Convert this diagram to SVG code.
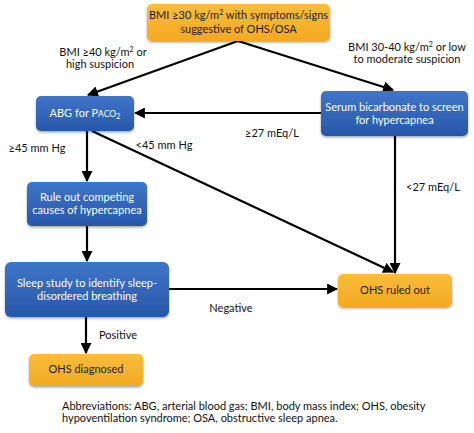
<svg xmlns="http://www.w3.org/2000/svg" width="474" height="433" viewBox="0 0 474 433">
<defs>
<linearGradient id="gb" x1="0" y1="0" x2="0" y2="1"><stop offset="0" stop-color="#3f75c8"/><stop offset="1" stop-color="#2757a8"/></linearGradient>
<linearGradient id="go" x1="0" y1="0" x2="0" y2="1"><stop offset="0" stop-color="#f9bd3c"/><stop offset="1" stop-color="#f3a921"/></linearGradient>
<filter id="sh" x="-10%" y="-10%" width="120%" height="130%"><feDropShadow dx="0" dy="1.5" stdDeviation="1.2" flood-color="#000" flood-opacity="0.35"/></filter>
<marker id="ah" viewBox="0 0 10 10" refX="9" refY="5" markerWidth="5" markerHeight="5" orient="auto-start-reverse"><path d="M0,0 L10,5 L0,10 z" fill="#000"/></marker>
</defs>
<style>
text{font-family:Lato,"Open Sans","Liberation Sans",sans-serif;font-size:11px;fill:#111}
.bt{fill:#fff;text-anchor:middle}
.ot{fill:#1a1a1a;text-anchor:middle}
.blue{fill:url(#gb);filter:url(#sh)}
.org{fill:url(#go);filter:url(#sh)}
.c{stroke:#000;stroke-width:2.2;fill:none;marker-end:url(#ah)}
.lm{text-anchor:middle}
</style>
<rect width="474" height="433" fill="#fff"/>
<g id="connectors">
<line class="c" x1="238" y1="41" x2="88" y2="95"/>
<line class="c" x1="238" y1="41" x2="393" y2="90"/>
<line class="c" x1="321" y1="113" x2="135" y2="113"/>
<line class="c" x1="87" y1="131" x2="87" y2="181"/>
<line class="c" x1="92" y1="131" x2="393" y2="272"/>
<line class="c" x1="395" y1="136" x2="395" y2="273"/>
<line class="c" x1="87" y1="226" x2="87" y2="261"/>
<line class="c" x1="169" y1="289" x2="337" y2="289"/>
<line class="c" x1="86" y1="317" x2="86" y2="353"/>
</g>
<g id="n-top"><rect class="org" x="147" y="4" width="183" height="37" rx="5"/><text class="ot" x="238.5" y="19">BMI ≥30 kg/m<tspan font-size="7" dy="-4">2</tspan><tspan dy="4"> with symptoms/signs</tspan></text><text class="ot" x="238.5" y="33">suggestive of OHS/OSA</text></g>
<g id="n-abg"><rect class="blue" x="36" y="96" width="98" height="35" rx="5"/><text class="bt" x="85" y="117">ABG for P<tspan font-size="8.5">ACO</tspan><tspan font-size="7.5" dy="2">2</tspan></text></g>
<g id="n-serum"><rect class="blue" x="321" y="91" width="147" height="45" rx="5"/><text class="bt" x="394.5" y="111">Serum bicarbonate to screen</text><text class="bt" x="394.5" y="124">for hypercapnea</text></g>
<g id="n-rule"><rect class="blue" x="27" y="182" width="120" height="44" rx="5"/><text class="bt" x="87" y="201">Rule out competing</text><text class="bt" x="87" y="214">causes of hypercapnea</text></g>
<g id="n-sleep"><rect class="blue" x="5" y="262" width="164" height="55" rx="6"/><text class="bt" x="87" y="287">Sleep study to identify sleep-</text><text class="bt" x="87" y="300">disordered breathing</text></g>
<g id="n-ruled"><rect class="org" x="338" y="274" width="114" height="33" rx="5"/><text class="ot" x="395" y="294">OHS ruled out</text></g>
<g id="n-diag"><rect class="org" x="29" y="354" width="114" height="32" rx="5"/><text class="ot" x="86" y="373">OHS diagnosed</text></g>
<g id="labels">
<text class="lm" x="103" y="56">BMI ≥40 kg/m<tspan font-size="7" dy="-4">2</tspan><tspan dy="4"> or</tspan></text>
<text class="lm" x="100" y="68">high suspicion</text>
<text class="lm" x="407" y="51">BMI 30-40 kg/m<tspan font-size="7" dy="-4">2</tspan><tspan dy="4"> or low</tspan></text>
<text class="lm" x="407" y="63">to moderate suspicion</text>
<text class="lm" x="272" y="137">≥27 mEq/L</text>
<text class="lm" x="164" y="149">&lt;45 mm Hg</text>
<text class="lm" x="37" y="152">≥45 mm Hg</text>
<text class="lm" x="433" y="191">&lt;27 mEq/L</text>
<text class="lm" x="231" y="312">Negative</text>
<text class="lm" x="118" y="339">Positive</text>
<text x="62" y="410">Abbreviations: ABG, arterial blood gas; BMI, body mass index; OHS, obesity</text>
<text x="62" y="422">hypoventilation syndrome; OSA, obstructive sleep apnea.</text>
</g>
</svg>
